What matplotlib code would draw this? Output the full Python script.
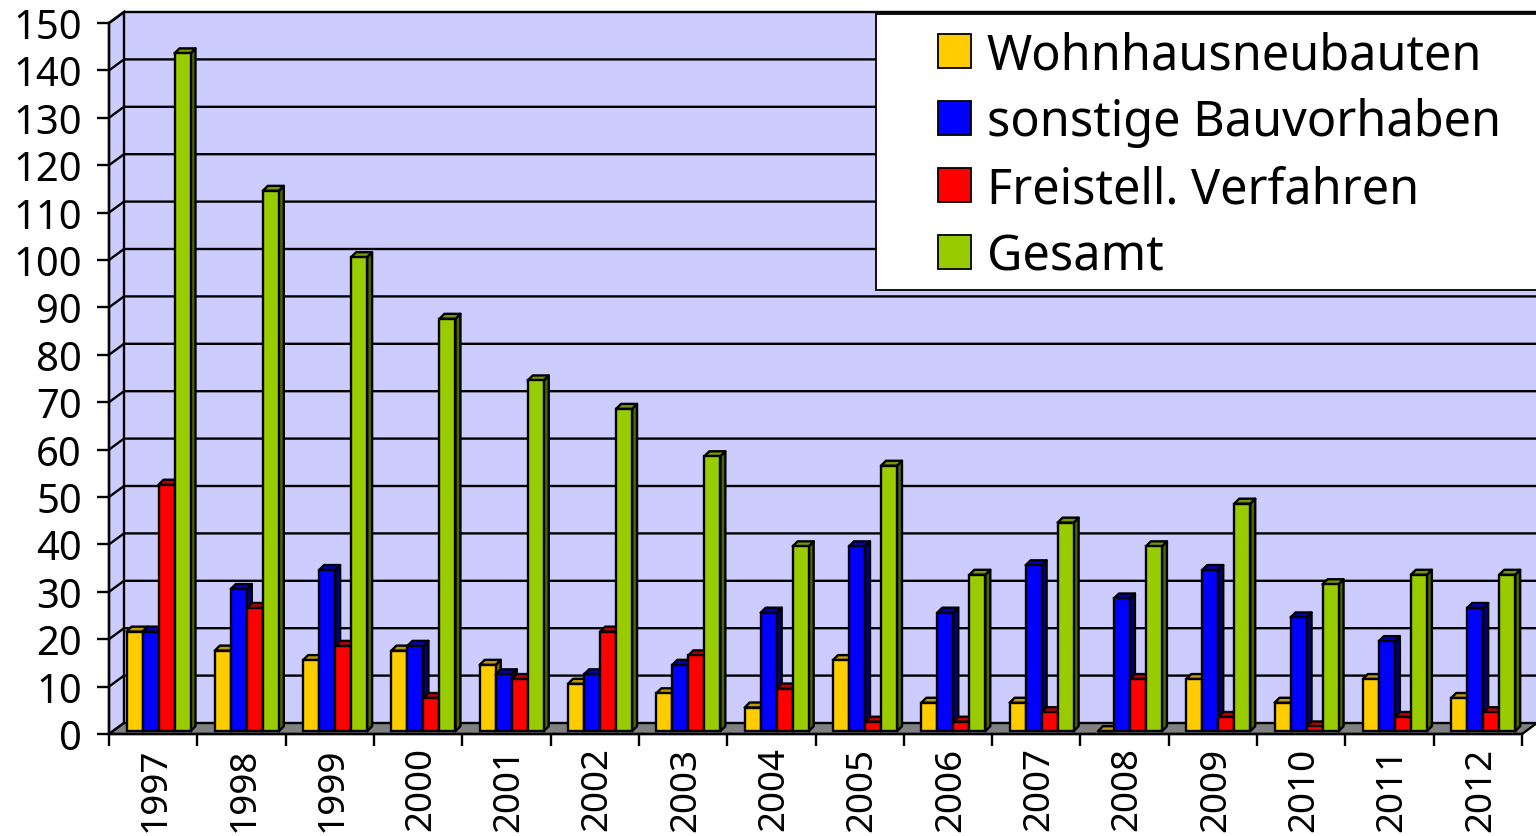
import matplotlib
matplotlib.use("Agg")
import matplotlib.pyplot as plt
from matplotlib.patches import Polygon, Rectangle
from matplotlib.transforms import ScaledTranslation
import numpy as np

years = [1997, 1998, 1999, 2000, 2001, 2002, 2003, 2004, 2005, 2006, 2007, 2008, 2009, 2010, 2011, 2012]
wohnhaus = [21, 17, 15, 17, 14, 10, 8, 5, 15, 6, 6, 0, 11, 6, 11, 7]
sonstige = [21, 30, 34, 18, 12, 12, 14, 25, 39, 25, 35, 28, 34, 24, 19, 26]
freistell = [52, 26, 18, 7, 11, 21, 16, 9, 2, 2, 4, 11, 3, 1, 3, 4]
gesamt = [143, 114, 100, 87, 74, 68, 58, 39, 56, 33, 44, 39, 48, 31, 33, 33]
series = [wohnhaus, sonstige, freistell, gesamt]
labels = ["Wohnhausneubauten", "sonstige Bauvorhaben", "Freistell. Verfahren", "Gesamt"]
front = ["#FFCC00", "#0000FF", "#FF0000", "#99CC00"]
top = ["#BF9900", "#0000BF", "#BF0000", "#739900"]
side = ["#7F6600", "#00007F", "#7F0000", "#4C6600"]
yticks = list(range(0, 151, 10))

W, H = 1536, 837
plt.rcParams["font.family"] = ["Noto Sans", "DejaVu Sans"]
fig = plt.figure(figsize=(W / 100, H / 100), dpi=100, facecolor="white")
X0, X1, Y0, Y1 = 109, 1522, 735, 24
ax = fig.add_axes([X0 / W, 1 - Y0 / H, (X1 - X0) / W, (Y0 - Y1) / H], facecolor="none")
ax.set_xlim(0, 16)
ax.set_ylim(0, 150)
ux = (X1 - X0) / 16
uy = (Y0 - Y1) / 150
LW = 1.7

# depth of the chart box and of the bars, pixels converted to data units
wall_dx, wall_dy = 15 / ux, 11 / uy
bar_dx, bar_dy = 5 / ux, 5 / uy
base = 2.8 / uy
bar_w = 16 / ux
bar_start = 17.5 / ux

ymax = yticks[-1]
xmax = len(years)
# back wall, side wall, floor
ax.add_patch(Polygon([(wall_dx, wall_dy), (xmax + wall_dx, wall_dy), (xmax + wall_dx, ymax + wall_dy), (wall_dx, ymax + wall_dy)],
                     fc="#CCCCFF", ec="none", clip_on=False, zorder=1))
ax.add_patch(Polygon([(0, 0), (wall_dx, wall_dy), (wall_dx, ymax + wall_dy), (0, ymax)],
                     fc="#CCCCFF", ec="black", lw=LW, clip_on=False, zorder=1.1))
ax.add_patch(Polygon([(0, 0), (wall_dx, wall_dy), (xmax + wall_dx, wall_dy), (xmax, 0)],
                     fc="#808080", ec="black", lw=LW, clip_on=False, zorder=1.2))
for v in yticks[1:]:
    ax.plot([0, wall_dx, xmax + wall_dx], [v, v + wall_dy, v + wall_dy], color="black", lw=LW,
            clip_on=False, zorder=1.3, solid_joinstyle="miter")

# bars
z = 2.0
for g in range(len(years)):
    for s, vals in enumerate(series):
        v = vals[g]
        x = g + bar_start + s * bar_w
        ax.add_patch(Polygon([(x + bar_w, base), (x + bar_w + bar_dx, base + bar_dy),
                              (x + bar_w + bar_dx, base + v + bar_dy), (x + bar_w, base + v)],
                             fc=side[s], ec="black", lw=LW, clip_on=False, zorder=z, joinstyle="round"))
        ax.add_patch(Polygon([(x, base + v), (x + bar_dx, base + v + bar_dy),
                              (x + bar_w + bar_dx, base + v + bar_dy), (x + bar_w, base + v)],
                             fc=top[s], ec="black", lw=LW, clip_on=False, zorder=z, joinstyle="round"))
        ax.bar(x, v, width=bar_w, bottom=base, align="edge", color=front[s], edgecolor="black",
               linewidth=LW, clip_on=False, zorder=z + 0.01)
        z += 0.02

# axes
for sp in ("top", "right"):
    ax.spines[sp].set_visible(False)
for sp in ("left", "bottom"):
    ax.spines[sp].set_linewidth(LW)
    ax.spines[sp].set_zorder(50)
ax.set_yticks(yticks)
ax.set_yticklabels([str(v) for v in yticks], fontsize=28.8)
ax.tick_params(axis="y", length=8.6, width=LW, pad=11)
ax.set_xticks(np.arange(len(years) + 1))
ax.set_xticklabels([])
ax.set_xticks(np.arange(len(years)) + 0.5, minor=True)
ax.set_xticklabels([str(y) for y in years], minor=True, rotation=90, fontsize=26.5)
ax.tick_params(axis="x", which="major", length=8.6, width=LW)
ax.tick_params(axis="x", which="minor", length=0, pad=9)
shift = ScaledTranslation(3 / 100, 0, fig.dpi_scale_trans)
for lab in ax.get_xticklabels(minor=True):
    lab.set_transform(lab.get_transform() + shift)

# legend
fig.add_artist(Rectangle((876 / W, 1 - 291 / H), 700 / W, 276 / H, transform=fig.transFigure,
                         fc="white", ec="black", lw=1.3, zorder=60))
handles = [Rectangle((0, 0), 1, 1, fc=c, ec="black", lw=1.3) for c in front]
leg = fig.legend(handles, labels, loc="upper left", bbox_to_anchor=(938 / W, 1 - 31 / H),
                 bbox_transform=fig.transFigure, frameon=False, fontsize=35, borderpad=0, borderaxespad=0,
                 handlelength=0.68, handleheight=0.68, handletextpad=0.32, labelspacing=0.35)
leg.set_zorder(61)

fig.savefig("out.png", dpi=100)
